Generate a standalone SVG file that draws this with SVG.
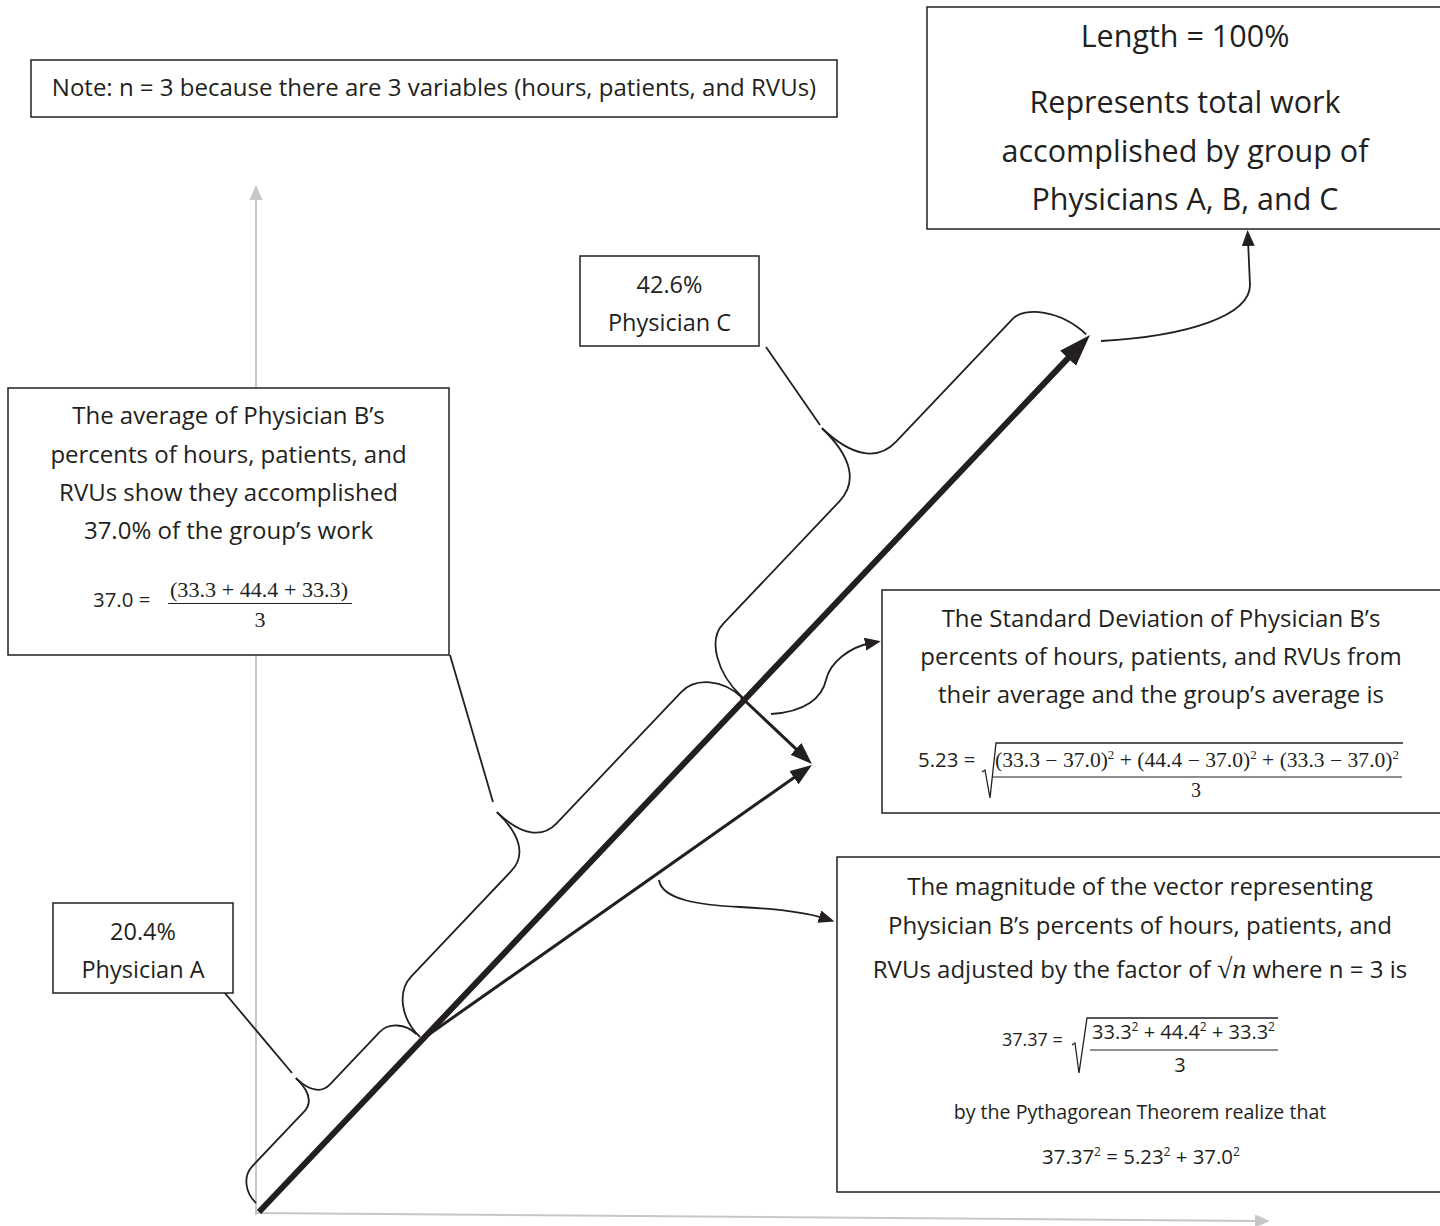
<svg xmlns="http://www.w3.org/2000/svg" width="1440" height="1226" viewBox="0 0 1440 1226">
<style>
.box{fill:#fff;stroke:#231f20;stroke-width:1.5}
.t{font-family:"Open Sans","Liberation Sans",sans-serif;fill:#231f20;text-anchor:middle}
.s{font-family:"Liberation Serif","Times New Roman",serif;fill:#231f20}
.ln{fill:none;stroke:#231f20;stroke-width:1.8}
.ax{fill:none;stroke:#c6c7c8;stroke-width:2}
</style>
<defs>
<marker id="big" markerUnits="userSpaceOnUse" orient="auto" markerWidth="34" markerHeight="24" refX="17" refY="11"><path d="M0,0 L32,11 L0,22 z" fill="#231f20"/></marker>
<marker id="med" markerUnits="userSpaceOnUse" orient="auto" markerWidth="24" markerHeight="18" refX="12" refY="8"><path d="M0,0 L22,8 L0,16 z" fill="#231f20"/></marker>
<marker id="sm" markerUnits="userSpaceOnUse" orient="auto" markerWidth="18" markerHeight="14" refX="6" refY="6.5"><path d="M0,0 L16,6.5 L0,13 z" fill="#231f20"/></marker>
<marker id="gr" markerUnits="userSpaceOnUse" orient="auto" markerWidth="16" markerHeight="14" refX="0" refY="6.5"><path d="M0,0 L15,6.5 L0,13 z" fill="#c6c7c8"/></marker>
</defs>

<g id="axes">
<line class="ax" x1="256" y1="1215" x2="256" y2="200" marker-end="url(#gr)"/>
<line class="ax" x1="256" y1="1213" x2="1255" y2="1221" marker-end="url(#gr)"/>
</g>

<g id="connectors">
<line x1="259" y1="1212" x2="1079.7" y2="345.9" stroke="#231f20" stroke-width="6" marker-end="url(#big)"/>
<line x1="421" y1="1040" x2="803.8" y2="770.7" stroke="#231f20" stroke-width="3" marker-end="url(#med)"/>
<line x1="741" y1="697" x2="804.7" y2="757.1" stroke="#231f20" stroke-width="3" marker-end="url(#med)"/>
<path class="ln" d="M1101,341 C1190,336 1250,315 1250,285 L1248,240" marker-end="url(#sm)"/>
<path class="ln" d="M771,714 C805,712 822,698 826,680 C830,662 850,647 871,643" marker-end="url(#sm)"/>
<path class="ln" d="M659,880 C662,900 700,905 740,907 C780,909 808,913 825,918.5" marker-end="url(#sm)"/>
<line class="ln" x1="224" y1="992" x2="292" y2="1073"/>
<line class="ln" x1="766" y1="347" x2="820" y2="425"/>
<line class="ln" x1="450" y1="655" x2="493" y2="802"/>
<g transform="translate(256,1203) rotate(-46.5)">
<path class="ln" d="M0,0 C0,-15.4 10.8,-28 24,-28 L99,-28 C111.4,-28 118,-38.2 118,-57"/>
<path class="ln" d="M118,-57 C118,-38.2 124.6,-28 137,-28 L209,-28 C222.2,-28 233,-15.4 233,0"/>
</g>
<g transform="translate(420,1037) rotate(-46.5)">
<path class="ln" d="M0,0 C0,-26.4 17.1,-48 38,-48 L183,-48 C204.5,-48 216,-66 216,-99"/>
<path class="ln" d="M216,-99 C216,-66 227.5,-48 249,-48 L430,-48 C450.9,-48 468,-26.4 468,0"/>
</g>
<g transform="translate(742,697) rotate(-46.5)">
<path class="ln" d="M0,0 C0,-35.2 18,-64 40,-64 L209,-64 C235.6,-64 250,-86 250,-127"/>
<path class="ln" d="M250,-127 C250,-86 264.4,-64 291,-64 L460,-64 C478,-64 500,-35.2 500,0"/>
</g>
</g>

<g id="note">
<rect class="box" x="31" y="60" width="806" height="57"/>
<text class="t" x="434" y="96" font-size="24">Note: n = 3 because there are 3 variables (hours, patients, and RVUs)</text>
</g>

<g id="length">
<rect class="box" x="927" y="7" width="520" height="222"/>
<text class="t" x="1185" y="47" font-size="30.5">Length = 100%</text>
<text class="t" x="1185" y="113" font-size="30.5">Represents total work</text>
<text class="t" x="1185" y="162" font-size="30.5">accomplished by group of</text>
<text class="t" x="1185" y="210" font-size="30.5">Physicians A, B, and C</text>
</g>

<g id="physC">
<rect class="box" x="580" y="256" width="179" height="90"/>
<text class="t" x="669.5" y="293" font-size="23.5">42.6%</text>
<text class="t" x="669.5" y="331" font-size="23.5">Physician C</text>
</g>

<g id="average">
<rect class="box" x="8" y="388" width="441" height="267"/>
<text class="t" x="228.5" y="424" font-size="24">The average of Physician B’s</text>
<text class="t" x="228.5" y="463" font-size="24">percents of hours, patients, and</text>
<text class="t" x="228.5" y="501" font-size="24">RVUs show they accomplished</text>
<text class="t" x="228.5" y="539" font-size="24">37.0% of the group’s work</text>
<text class="t" x="93" y="607" font-size="20.4" style="text-anchor:start">37.0 =</text>
<text class="s" x="170" y="597" font-size="22" textLength="178" lengthAdjust="spacingAndGlyphs">(33.3 + 44.4 + 33.3)</text>
<line x1="168" y1="603.5" x2="352" y2="603.5" stroke="#231f20" stroke-width="1.2"/>
<text class="s" x="260" y="627" font-size="22" text-anchor="middle">3</text>
</g>

<g id="stddev">
<rect class="box" x="882" y="590" width="565" height="223"/>
<text class="t" x="1161" y="627" font-size="24">The Standard Deviation of Physician B’s</text>
<text class="t" x="1161" y="665" font-size="24">percents of hours, patients, and RVUs from</text>
<text class="t" x="1161" y="703" font-size="24">their average and the group’s average is</text>
<text class="t" x="918" y="767" font-size="20.4" style="text-anchor:start">5.23 =</text>
<path d="M982,772 L985,770 L990,798 L996,743 L1403,743" fill="none" stroke="#231f20" stroke-width="1.3"/>
<text class="s" x="995" y="767" font-size="20" textLength="404" lengthAdjust="spacingAndGlyphs">(33.3 − 37.0)<tspan dy="-8" font-size="12">2</tspan><tspan dy="8"> + (44.4 − 37.0)</tspan><tspan dy="-8" font-size="12">2</tspan><tspan dy="8"> + (33.3 − 37.0)</tspan><tspan dy="-8" font-size="12">2</tspan></text>
<line x1="993" y1="777" x2="1402" y2="777" stroke="#231f20" stroke-width="1.2"/>
<text class="s" x="1196" y="797" font-size="20" text-anchor="middle">3</text>
</g>

<g id="magnitude">
<rect class="box" x="837" y="857" width="610" height="335"/>
<text class="t" x="1140" y="895" font-size="24">The magnitude of the vector representing</text>
<text class="t" x="1140" y="934" font-size="24">Physician B’s percents of hours, patients, and</text>
<text class="t" x="1140" y="978" font-size="24">RVUs adjusted by the factor of  <tspan font-family="Liberation Serif, serif" font-size="28">√<tspan font-style="italic">n</tspan></tspan>  where n = 3 is</text>
<text class="t" x="1002" y="1046" font-size="18" style="text-anchor:start">37.37 =</text>
<path d="M1072,1045 L1075,1043 L1079,1073 L1087,1018 L1278,1018" fill="none" stroke="#231f20" stroke-width="1.3"/>
<text class="t" x="1092" y="1039" font-size="20" style="text-anchor:start" textLength="183" lengthAdjust="spacingAndGlyphs">33.3<tspan dy="-8" font-size="12">2</tspan><tspan dy="8"> + 44.4</tspan><tspan dy="-8" font-size="12">2</tspan><tspan dy="8"> + 33.3</tspan><tspan dy="-8" font-size="12">2</tspan></text>
<line x1="1090" y1="1050" x2="1278" y2="1050" stroke="#231f20" stroke-width="1.2"/>
<text class="t" x="1180" y="1072" font-size="20">3</text>
<text class="t" x="1140" y="1119" font-size="19.6">by the Pythagorean Theorem realize that</text>
<text class="t" x="1141" y="1164" font-size="20.4">37.37<tspan dy="-8" font-size="12">2</tspan><tspan dy="8"> = 5.23</tspan><tspan dy="-8" font-size="12">2</tspan><tspan dy="8"> + 37.0</tspan><tspan dy="-8" font-size="12">2</tspan></text>
</g>

<g id="physA">
<rect class="box" x="53" y="903" width="180" height="90"/>
<text class="t" x="143" y="940" font-size="23.5">20.4%</text>
<text class="t" x="143" y="978" font-size="23.5">Physician A</text>
</g>
</svg>
